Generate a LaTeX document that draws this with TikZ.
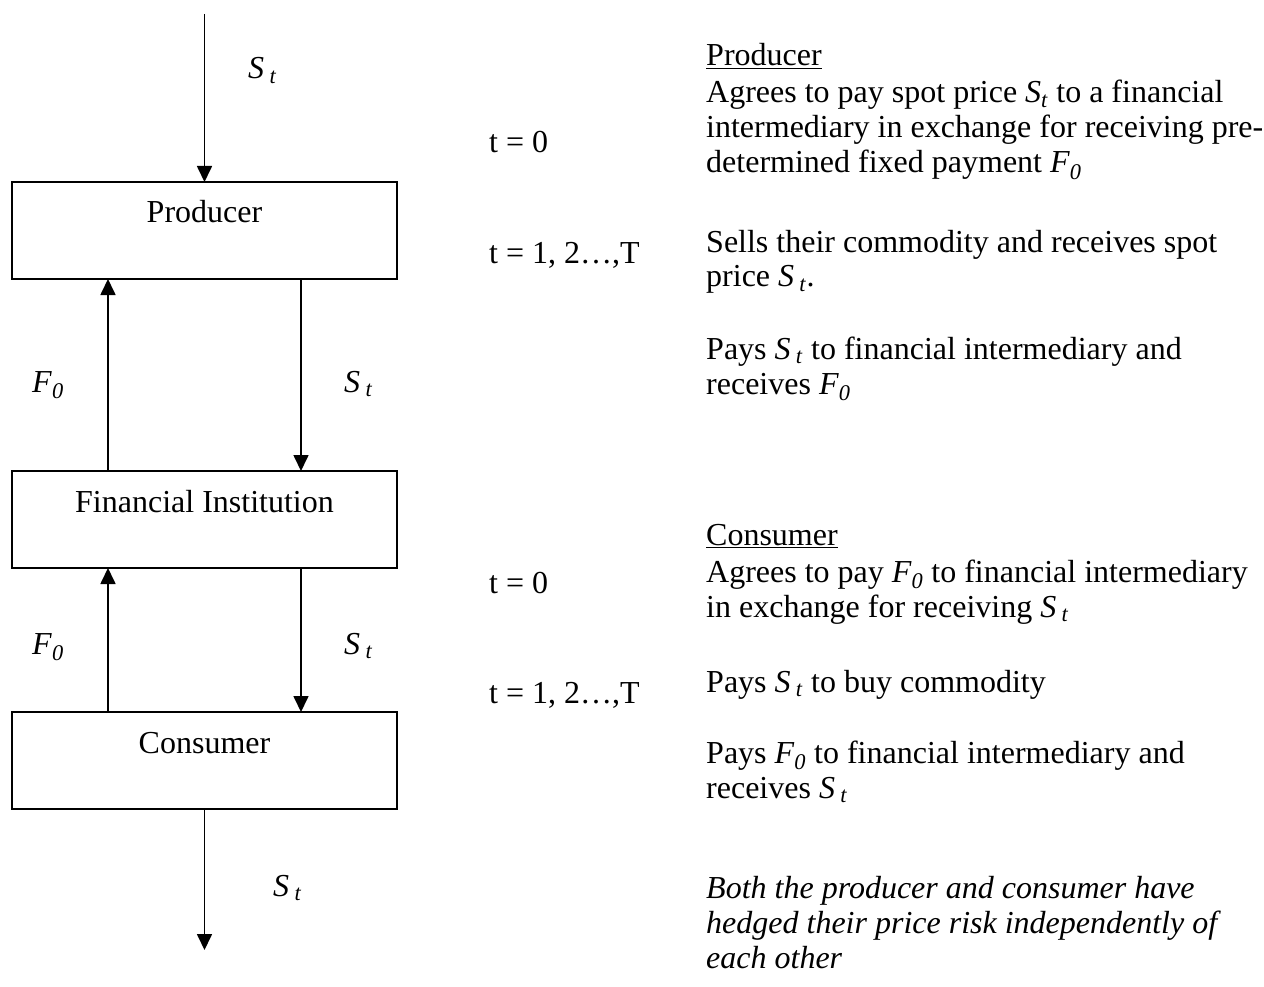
\documentclass[tikz,border=0pt]{standalone}
\usepackage{fontspec}
\setmainfont{Liberation Serif}
\usetikzlibrary{arrows.meta}
\usetikzlibrary{positioning}

\newcommand{\St}{\textit{S}\,\textsubscript{\textit{t}}}
\newcommand{\Sti}{\textit{S}\textsubscript{\textit{t}}}
\newcommand{\Fo}{\textit{F}\textsubscript{\textit{0}}}

\begin{document}
\begin{tikzpicture}[x=1pt,y=-1pt,>={Triangle[length=16pt,width=15pt]},
  font=\fontsize{32}{35}\selectfont,
  block/.style={draw,line width=2.2pt,minimum width=385pt,minimum height=97pt,
    inner sep=0pt,outer sep=0pt,text height=21pt,text depth=36pt},
  flow/.style={->,line width=1.7pt},
  txt/.style={anchor=base west,inner sep=0pt,align=left}]

  \useasboundingbox (0,0) rectangle (1264,987);

  \node[block] (prod) at (204.5,230.5) {Producer};
  \node[block,below=192pt of prod] (fin) {Financial Institution};
  \node[block,below=144pt of fin] (cons) {Consumer};

  \coordinate (src) at (204.5,14);
  \coordinate (sink) at (204.5,950);

  \draw[flow] (src) -- (prod);
  \draw[flow] ([xshift=-96.5pt]fin.north) -- ([xshift=-96.5pt]prod.south);
  \draw[flow] ([xshift=96.5pt]prod.south) -- ([xshift=96.5pt]fin.north);
  \draw[flow] ([xshift=-96.5pt]cons.north) -- ([xshift=-96.5pt]fin.south);
  \draw[flow] ([xshift=96.5pt]fin.south) -- ([xshift=96.5pt]cons.north);
  \draw[flow] (cons) -- (sink);

  % payment labels
  \node[txt] (st1) at (248,79) {\St};
  \node[txt] (f1) at (32,392) {\Fo};
  \node[txt] (st2) at (344,392) {\St};
  \node[txt] (f2) at (32,654) {\Fo};
  \node[txt] (st3) at (344,654) {\St};
  \node[txt] (st4) at (273,896) {\St};

  % producer side (multi-line texts sit on their last baseline)
  \node[txt] (pt0) at (489,153) {t = 0};
  \node[txt] (pt1) at (489,263) {t = 1, 2…,T};
  \node[txt] (phead) at (706,66) {\underline{Producer}};
  \node[txt] (pa) at (706,173) {Agrees to pay spot price \Sti{} to a financial\\
    intermediary in exchange for receiving pre-\\determined fixed payment \Fo};
  \node[txt] (pb) at (706,287) {Sells their commodity and receives spot\\price \St.};
  \node[txt] (pc) at (706,394) {Pays \St{} to financial intermediary and\\receives \Fo};

  % consumer side
  \node[txt] (ct0) at (489,593) {t = 0};
  \node[txt] (ct1) at (489,703) {t = 1, 2…,T};
  \node[txt] (chead) at (706,545) {\underline{Consumer}};
  \node[txt] (ca) at (706,617) {Agrees to pay \Fo{} to financial intermediary\\
    in exchange for receiving \St};
  \node[txt] (cb) at (706,692) {Pays \St{} to buy commodity};
  \node[txt] (cc) at (706,798) {Pays \Fo{} to financial intermediary and\\receives \St};

  \node[txt,font=\fontsize{32}{35}\selectfont\itshape] (note) at (706,968)
    {Both the producer and consumer have\\hedged their price risk independently of\\each other};

\end{tikzpicture}
\end{document}
